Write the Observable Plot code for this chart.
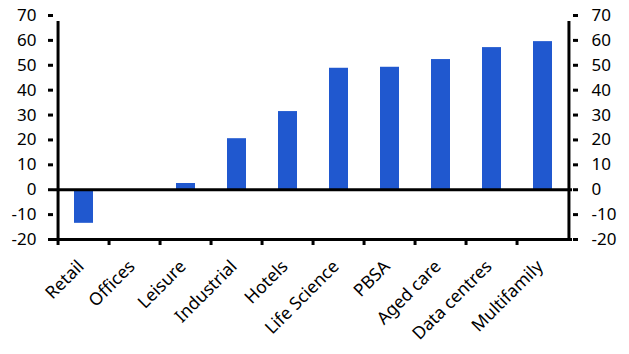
<!DOCTYPE html>
<html><head><meta charset="utf-8">
<script src="https://cdn.jsdelivr.net/npm/d3@7"></script>
<script src="https://cdn.jsdelivr.net/npm/@observablehq/plot@0.6"></script>
<style>
body{margin:0;background:#fff;font-family:"Noto Sans",sans-serif}
#chart svg [aria-label$="tick"] path{stroke-width:3px}
</style>
</head><body><div id="chart"></div>
<script>
const categories = ["Retail","Offices","Leisure","Industrial","Hotels","Life Science","PBSA","Aged care","Data centres","Multifamily"];
const values = [-13.5, 0, 2.5, 20.5, 31.4, 48.8, 49.2, 52.3, 57.1, 59.5];
const yTicks = [-20,-10,0,10,20,30,40,50,60,70];

const data = categories.map((c,i)=>({cat:c, v:values[i]}));
const W = 629, H = 354, mL = 53, mR = 57, mT = 15, mB = 115;
const bw = (W - mL - mR) / categories.length;
const fmt = d => String(d);
const first = categories[0], last = categories[categories.length-1];

const chart = Plot.plot({
  width: W, height: H,
  marginLeft: mL, marginRight: mR, marginTop: mT, marginBottom: mB,
  style: {fontFamily: '"Noto Sans", sans-serif', fontSize: "16px", color: "#000", background: "#fff"},
  x: {domain: categories, padding: 0, axis: null},
  y: {domain: [-20, 70], axis: null},
  marks: [
    Plot.barY(data, {x: "cat", y: "v", fill: "#2058cf", insetLeft: 16, insetRight: 16}),
    Plot.ruleY([0], {stroke: "#000", strokeWidth: 3}),
    Plot.ruleY([-20], {stroke: "#000", strokeWidth: 3}),
    Plot.ruleX([first], {y1: -20, y2: 70, dx: -bw/2, insetBottom: -6, stroke: "#000", strokeWidth: 3}),
    Plot.ruleX([last], {y1: -20, y2: 70, dx: bw/2, insetBottom: -6, stroke: "#000", strokeWidth: 3}),
    Plot.axisY(yTicks, {anchor: "left", tickSize: 5, tickPadding: 12, strokeWidth: 3, tickFormat: fmt, fontSize: 17, label: null}),
    Plot.axisY(yTicks, {anchor: "right", tickSize: 5, tickPadding: 14, strokeWidth: 3, tickFormat: fmt, fontSize: 17, label: null}),
    Plot.axisX(categories, {tickSize: 6, strokeWidth: 3, tickFormat: () => "", dx: -bw/2, label: null}),
    Plot.axisX(categories, {tickSize: 0, tickRotate: -45, tickPadding: 21, dx: -3, dy: 3, fontSize: 17.5, label: null})
  ]
});
document.getElementById("chart").appendChild(chart);
</script>
</body></html>
